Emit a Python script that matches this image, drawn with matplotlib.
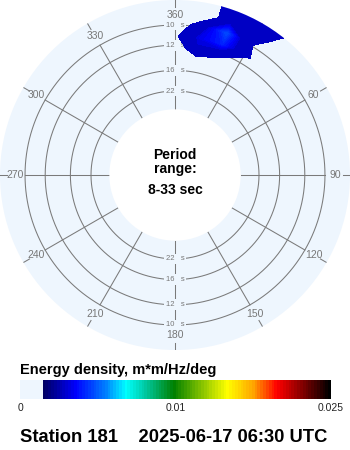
import numpy as np
import matplotlib
matplotlib.use("Agg")
import matplotlib.pyplot as plt
from matplotlib.colors import LinearSegmentedColormap, FuncNorm
import matplotlib.cm as cm

plt.rcParams['font.family'] = ['Liberation Sans', 'DejaVu Sans']

# ---------------- data ----------------
directions_deg = [-10, 0, 10, 20, 30, 40, 50]
frequencies_hz = [0.061, 0.071, 0.081, 0.091, 0.101, 0.111, 0.121, 0.131]
energy = [
    [0.0, 0.0,    0.0,    0.0,     0.0,    0.0,     0.0],
    [0.0, 0.0,    0.0,    0.0,     0.0,    0.0,     0.0],
    [0.0, 0.0,    0.0028, 0.0017,  0.0,    0.0,     0.0],
    [0.0, 0.0011, 0.0032, 0.0040,  0.0019, 0.0,     0.0],
    [0.0, 0.0,    0.0023, 0.0047,  0.0015, 0.0,     0.0],
    [0.0, 0.0,    0.0,    0.00247, 0.0027, 0.0002,  0.0],
    [0.0, 0.0,    0.0,    0.00247, 0.0025, 0.00116, 0.0],
    [0.0, 0.0,    0.0,    0.0025,  0.0025, 0.0016,  0.0],
]
period_rings_s = [10, 12, 16, 22]
direction_ticks_deg = [0, 30, 60, 90, 120, 150, 180, 210, 240, 270, 300, 330]
direction_labels = ["360", "30", "60", "90", "120", "150", "180", "210", "240", "270", "300", "330"]
period_range = (8, 33)
cbar_ticks = [0, 0.01, 0.025]
cbar_tick_labels = ["0", "0.01", "0.025"]
station = "Station 181"
timestamp = "2025-06-17 06:30 UTC"
threshold = 0.00136

# ---------------- style ----------------
BG = "#EEF6FE"
GRID = "#7a7a7a"
LABEL = "#777777"
EDGE_BLUE = "#0000C4"

cmap = LinearSegmentedColormap.from_list("energy", [
    (0.000, BG), (0.068, BG), (0.0685, "#00005C"),
    (0.177, "#0000FF"), (0.274, "#0080FF"), (0.339, "#00FFFF"),
    (0.403, "#00C8A0"), (0.494, "#008000"), (0.668, "#FFFF00"),
    (0.752, "#FFA500"), (0.829, "#FF0000"), (0.913, "#800000"),
    (1.000, "#000000")], N=110)

def fwd(x):
    return np.interp(x, [0, 0.01, 0.025], [0, 0.5, 1.0])

def inv(p):
    return np.interp(p, [0, 0.5, 1.0], [0, 0.01, 0.025])

norm = FuncNorm((fwd, inv), vmin=0, vmax=0.025)

fig = plt.figure(figsize=(3.5, 4.5), dpi=100)
fig.patch.set_facecolor("white")

ax = fig.add_axes([0, 1 - 350 / 450, 1, 350 / 450], projection="polar")
ax.set_theta_zero_location("N")
ax.set_theta_direction(-1)
f_inner = 1.0 / period_range[1]
f_outer = 0.1207
ax.set_ylim(f_inner, f_outer)
ax.set_rorigin(-0.024)
ax.set_facecolor(BG)
ax.grid(False)
ax.set_xticks([])
ax.set_yticks([])
for s in ax.spines.values():
    s.set_color("none")

# rings
th = np.linspace(0, 2 * np.pi, 721)
for p in period_rings_s:
    ax.plot(th, np.full_like(th, 1.0 / p), color=GRID, lw=0.75, zorder=1)

# spokes and ticks
f_label = 0.1083
for a, lab in zip(direction_ticks_deg, direction_labels):
    rad = np.deg2rad(a)
    ax.plot([rad, rad], [f_inner, 1.0 / period_rings_s[0]], color=GRID, lw=0.75, zorder=1)
    ax.plot([rad, rad], [0.1149, f_outer], color=GRID, lw=0.75, zorder=1)
    ax.text(rad, f_label, lab, ha="center", va="center", color=LABEL,
            fontsize=7.5, zorder=2)

# period labels
for p in period_rings_s:
    for base in (0.0, np.pi):
        ax.text(base, 1.0 / p, f"{p}   s", ha="center", va="center", color=LABEL,
                fontsize=5.5, zorder=2.5,
                bbox=dict(boxstyle="square,pad=0.25", fc=BG, ec="none"))

# spectrum blob
T, F = np.meshgrid(np.deg2rad(directions_deg), frequencies_hz)
Z = np.array(energy)
ax.contourf(T, F, Z, levels=[threshold, Z.max() * 1.01], colors=[EDGE_BLUE], zorder=3)
ax.contourf(T, F, Z, levels=np.linspace(0.003, Z.max() * 1.001, 10), cmap=cmap,
            norm=norm, zorder=3.1)

# center text
fig.text(0.5, 1 - 159.3 / 450, "Period", ha="center", va="baseline",
         fontsize=10, fontweight="bold")
fig.text(0.5, 1 - 173.3 / 450, "range:", ha="center", va="baseline",
         fontsize=10, fontweight="bold")
fig.text(0.5, 1 - 194.3 / 450, f"{period_range[0]}-{period_range[1]} sec",
         ha="center", va="baseline", fontsize=10, fontweight="bold")

# colorbar
cax = fig.add_axes([20 / 350, 1 - 399 / 450, 311 / 350, 19 / 450])
sm = cm.ScalarMappable(norm=norm, cmap=cmap)
cb = fig.colorbar(sm, cax=cax, orientation="horizontal")
cb.set_ticks(cbar_ticks)
cb.set_ticklabels(cbar_tick_labels)
cb.outline.set_visible(False)
cax.tick_params(length=0, pad=3, labelsize=7.5, colors="#222222")

fig.text(20 / 350, 1 - 370 / 450, "Energy density, m*m/Hz/deg", ha="left",
         va="center", fontsize=10.5, fontweight="bold")
fig.text(20 / 350, 1 - 437 / 450, f"{station}    {timestamp}", ha="left",
         va="center", fontsize=13.2, fontweight="bold")

fig.savefig("out.png", dpi=100)
